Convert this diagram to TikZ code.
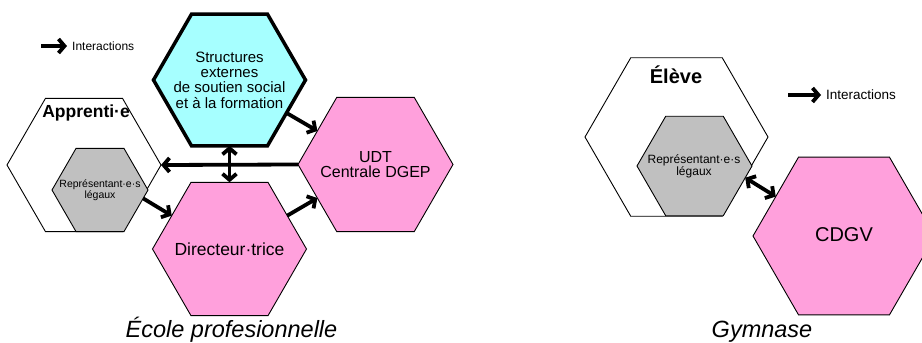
\documentclass[tikz,border=0pt]{standalone}
\usepackage{fontspec}
\setmainfont{Liberation Sans}
\usetikzlibrary{shapes.geometric,arrows.meta}

\definecolor{hexcyan}{HTML}{A6FFFF}
\definecolor{hexpink}{HTML}{FFA0DC}
\definecolor{hexgray}{HTML}{C0C0C0}

\tikzset{
  hexbox/.style={regular polygon, regular polygon sides=6, minimum size=#1,
    inner sep=0pt, outer sep=0pt, draw=black, line width=0.9pt},
  barb/.tip={Straight Barb[length=6pt,width=14pt]},
  link/.style={line width=3.8pt, -barb},
  duallink/.style={line width=3.8pt, barb-barb},
  label/.style={inner sep=0pt, align=center, text=black},
}
\newcommand{\fsz}[2]{\fontsize{#1}{#2}\selectfont}

\begin{document}
\begin{tikzpicture}[x=1pt,y=-1pt]
\useasboundingbox (0,0) rectangle (922,343);
\clip (0,0) rectangle (922,343);

% ---- École professionnelle ----
\node[hexbox=154, fill=white]    (apprenti) at (84,165) {};
\node[hexbox=96,  fill=hexgray]  (rep)      at (100,190) {};
\node[hexbox=152, fill=hexcyan, line width=3.5pt] (struct) at (229.5,80) {};
\node[hexbox=155, fill=hexpink]  (udt)      at (375.5,164.5) {};
\node[hexbox=154, fill=hexpink]  (dir)      at (229.5,249) {};

\node[label, font=\bfseries\fsz{17.5}{18}] (apprentiT) at (86,113) {Apprenti·e};
\node[label, font=\fsz{10.5}{10.5}] (repT) at (100,190) {Représentant·e·s\\légaux};
\node[label, font=\fsz{15}{15.3}] (structT) at (229.5,80)
  {Structures\\externes\\de soutien social\\et à la formation};
\node[label, font=\fsz{16}{15}] (udtT) at (375.5,164.5) {UDT\\Centrale DGEP};
\node[label, font=\fsz{17.5}{18}] (dirT) at (229.5,249) {Directeur·trice};
\node[label, anchor=base, font=\itshape\fsz{23.5}{24}] (ecoleT) at (231.5,337)
  {École profesionnelle};

% interactions
\draw[link] (struct.-30) -- (udt.150);
\draw[link] (udt.180) -- (apprenti.0);
\draw[duallink] (struct.270) -- (dir.90);
\draw[link] (rep.-11) -- (dir.150);
\draw[link] (dir.30) -- (udt.210);

% legend
\coordinate (legA) at (41,46);
\coordinate (legAend) at (67,46);
\node[label, anchor=west, font=\fsz{12}{12}] (legAT) at (72,46) {Interactions};
\draw[link] (legA) -- (legAend);

% ---- Gymnase ----
\node[hexbox=183, fill=white]   (eleve) at (676.5,137) {};
\node[hexbox=115, fill=hexgray] (rep2)  at (694.5,166) {};
\node[hexbox=182, fill=hexpink] (cdgv)  at (844,236) {};

\node[label, font=\bfseries\fsz{20}{20}] (eleveT) at (676,75) {Élève};
\node[label, font=\fsz{12}{12}] (rep2T) at (694,166) {Représentant·e·s\\légaux};
\node[label, font=\fsz{20}{20}] (cdgvT) at (844,235) {CDGV};
\node[label, anchor=base, font=\itshape\fsz{23.5}{24}] (gymT) at (762,337) {Gymnase};

\draw[duallink] (rep2.-13) -- (cdgv.150);

\coordinate (legB) at (788,95);
\coordinate (legBend) at (821,95);
\node[label, anchor=west, font=\fsz{13.5}{13.5}] (legBT) at (826,95) {Interactions};
\draw[link] (legB) -- (legBend);
\end{tikzpicture}
\end{document}
